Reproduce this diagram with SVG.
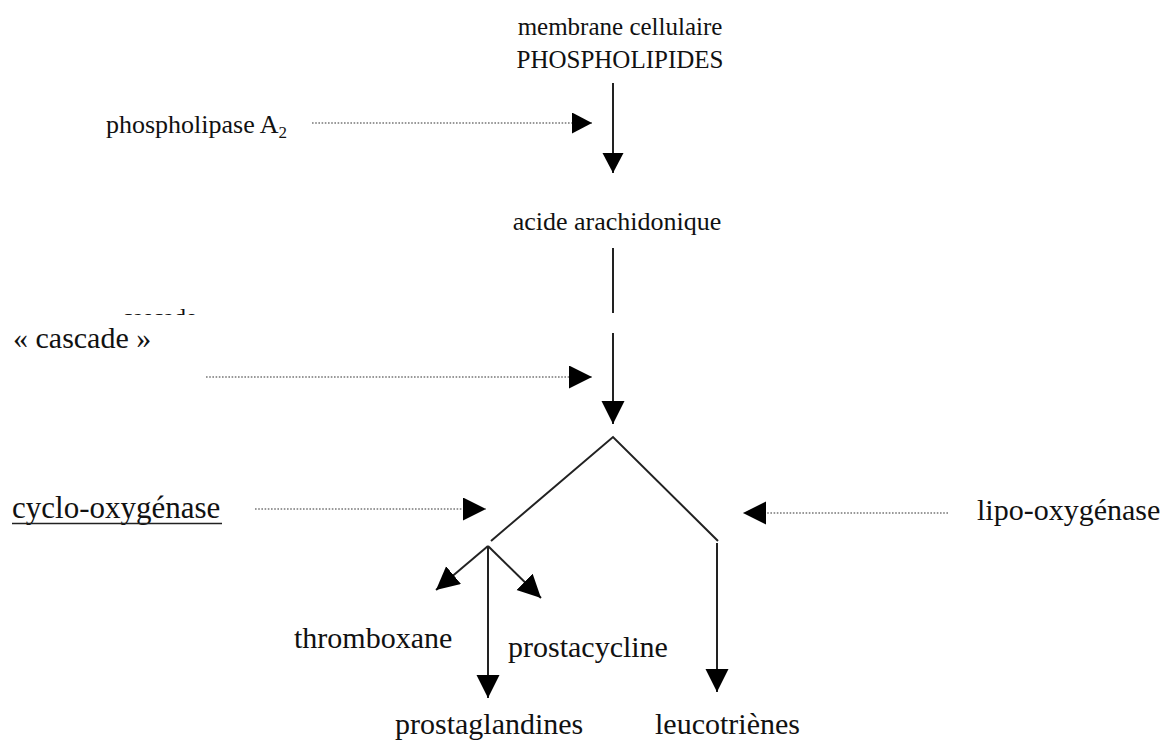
<svg xmlns="http://www.w3.org/2000/svg" width="1169" height="742" viewBox="0 0 1169 742">
<style>
.t{font-family:"Liberation Serif","Times New Roman",serif;fill:#111}
.s{font-size:25px}
.b{font-size:30px}
.ln{stroke:#222;stroke-width:2;fill:none}
.dt{stroke:#777;stroke-width:1.6;stroke-dasharray:1.6 1.6;fill:none}
</style>
<defs>
<marker id="ah" markerUnits="userSpaceOnUse" markerWidth="24" markerHeight="24" viewBox="0 0 24 24" refX="23" refY="11.5" orient="auto">
<path d="M0,0 L23,11.5 L0,23 z" fill="#000"/>
</marker>
<marker id="ahs" markerUnits="userSpaceOnUse" markerWidth="22" markerHeight="22" viewBox="0 0 22 22" refX="20" refY="10.5" orient="auto">
<path d="M0,0 L20,10.5 L0,21 z" fill="#000"/>
</marker>
<clipPath id="cut"><rect x="0" y="290" width="400" height="25"/></clipPath>
</defs>
<rect width="1169" height="742" fill="#fff"/>

<g id="n-membrane">
<text class="t s" font-family="Liberation Serif, serif" x="620" y="35" text-anchor="middle">membrane cellulaire</text>
<text class="t s" font-family="Liberation Serif, serif" x="620" y="68" text-anchor="middle">PHOSPHOLIPIDES</text>
</g>
<g id="n-phospholipase">
<text class="t" font-family="Liberation Serif, serif" x="106" y="133" font-size="26">phospholipase A<tspan font-size="17" dy="5">2</tspan></text>
</g>
<g id="n-acide">
<text class="t" font-family="Liberation Serif, serif" x="617" y="230" text-anchor="middle" font-size="26">acide arachidonique</text>
</g>
<g id="n-cascade-fragment" clip-path="url(#cut)">
<text class="t" font-family="Liberation Serif, serif" x="104" y="325" font-size="24">« cascade »</text>
</g>
<g id="n-cascade">
<text class="t b" font-family="Liberation Serif, serif" x="13" y="348">« cascade »</text>
</g>
<g id="n-cyclo">
<text class="t" font-family="Liberation Serif, serif" x="12" y="518" font-size="31">cyclo-oxygénase</text>
<line x1="12" y1="523.5" x2="222" y2="523.5" stroke="#222" stroke-width="1.6"/>
</g>
<g id="n-lipo">
<text class="t b" font-family="Liberation Serif, serif" x="977" y="520">lipo-oxygénase</text>
</g>
<g id="n-thromboxane">
<text class="t b" font-family="Liberation Serif, serif" x="294" y="648">thromboxane</text>
</g>
<g id="n-prostacycline">
<text class="t b" font-family="Liberation Serif, serif" x="508" y="657">prostacycline</text>
</g>
<g id="n-prostaglandines">
<text class="t b" font-family="Liberation Serif, serif" x="395" y="734">prostaglandines</text>
</g>
<g id="n-leucotrienes">
<text class="t b" font-family="Liberation Serif, serif" x="655" y="734">leucotriènes</text>
</g>

<g id="connectors">
<line class="ln" x1="613" y1="83" x2="613" y2="173" marker-end="url(#ahs)"/>
<line class="ln" x1="613" y1="248" x2="613" y2="313"/>
<line class="ln" x1="613" y1="333" x2="613" y2="424" marker-end="url(#ah)"/>
<polyline class="ln" points="491,541 613,437 718,541"/>
<line class="ln" x1="488" y1="546" x2="436" y2="590" marker-end="url(#ah)"/>
<line class="ln" x1="488" y1="546" x2="541" y2="598" marker-end="url(#ah)"/>
<line class="ln" x1="488" y1="546" x2="488" y2="698" marker-end="url(#ah)"/>
<line class="ln" x1="717" y1="543" x2="717" y2="692" marker-end="url(#ah)"/>
<line class="dt" x1="312" y1="123" x2="592" y2="123" marker-end="url(#ahs)"/>
<line class="dt" x1="206" y1="377" x2="592" y2="377" marker-end="url(#ah)"/>
<line class="dt" x1="255" y1="509" x2="486" y2="509" marker-end="url(#ah)"/>
<line class="dt" x1="948" y1="513" x2="743" y2="513" marker-end="url(#ah)"/>
</g>
</svg>
